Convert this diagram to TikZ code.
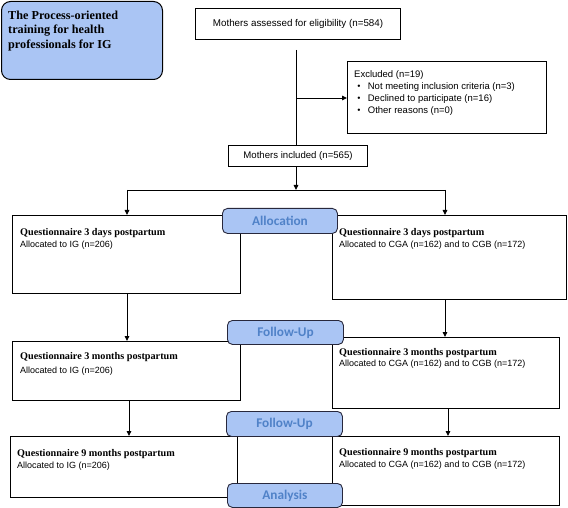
\documentclass[tikz,border=0pt]{standalone}
\usepackage{fontspec}
\setmainfont{Liberation Serif}
\newfontfamily\arialf{Liberation Sans}
\newfontfamily\labf{Carlito}
\usetikzlibrary{arrows.meta,calc}
\definecolor{lblue}{RGB}{170,197,244}
\definecolor{ltext}{RGB}{80,130,200}
\definecolor{lborder}{RGB}{40,40,60}
\begin{document}
\begin{tikzpicture}[x=1pt,y=-1pt,
  box/.style={draw=black,line width=1.1pt,anchor=north west,inner sep=0pt,fill=white},
  lab/.style={draw=lborder,line width=0.9pt,fill=lblue,rounded corners=5pt,anchor=north west,inner sep=0pt,
    font=\labf\bfseries\fontsize{13.3}{14}\selectfont,text=ltext},
  ttl/.style={anchor=north west,inner sep=0pt,align=left,font=\bfseries\fontsize{10.2}{11}\selectfont},
  sml/.style={anchor=north west,inner sep=0pt,align=left,font=\arialf\fontsize{9}{10}\selectfont},
  arr/.style={line width=0.9pt,-{Triangle[length=5pt,width=4.5pt]}},
  ln/.style={line width=0.9pt}]
\useasboundingbox (0,0) rectangle (568,508);

% top-left box
\node[draw=black,line width=1pt,fill=lblue,rounded corners=9pt,anchor=north west,inner sep=0pt,
  minimum width=161pt,minimum height=78pt] (tl) at (1,1) {};
\node[anchor=north west,inner sep=0pt,align=left,font=\bfseries\fontsize{12.2}{14.5}\selectfont]
  (tlt) at (8,10.5) {The Process-oriented\\training for health\\professionals for IG};

% assessed
\node[box,minimum width=205pt,minimum height=31pt,font=\arialf\fontsize{9.8}{11}\selectfont] (ass) at (195,8) {Mothers assessed for eligibility (n=584)};
% excluded
\node[box,minimum width=199pt,minimum height=72pt] (exc) at (347,61) {};
\node[anchor=north west,inner sep=0pt,align=left,font=\arialf\fontsize{9.5}{12}\selectfont] (exct) at (354,70)
 {Excluded (n=19)\\
  \hspace*{3pt}{\fontsize{5}{6}\selectfont\raisebox{1.5pt}{$\bullet$}}\hspace{7pt}Not meeting inclusion criteria (n=3)\\
  \hspace*{3pt}{\fontsize{5}{6}\selectfont\raisebox{1.5pt}{$\bullet$}}\hspace{7pt}Declined to participate (n=16)\\
  \hspace*{3pt}{\fontsize{5}{6}\selectfont\raisebox{1.5pt}{$\bullet$}}\hspace{7pt}Other reasons (n=0)};
% included
\node[box,minimum width=139pt,minimum height=21pt,font=\arialf\fontsize{9.6}{11}\selectfont] (inc) at (228,145) {Mothers included (n=565)};

% questionnaire boxes
\node[box,minimum width=228pt,minimum height=78pt] (l1) at (12,215) {};
\node[box,minimum width=234pt,minimum height=84pt] (r1) at (332,215) {};
\node[box,minimum width=228pt,minimum height=59pt] (l2) at (12,341) {};
\node[box,minimum width=227pt,minimum height=71pt] (r2) at (332,337) {};
\node[box,minimum width=227pt,minimum height=61pt] (l3) at (10,436) {};
\node[box,minimum width=227pt,minimum height=69pt] (r3) at (332,436) {};

\node[ttl] at (20,228) {Questionnaire 3 days postpartum};
\node[sml] at (20,240.5) {Allocated to IG (n=206)};
\node[ttl] at (339,228) {Questionnaire 3 days postpartum};
\node[sml] at (339,240.5) {Allocated to CGA (n=162) and to CGB (n=172)};

\node[ttl] at (20,352.5) {Questionnaire 3 months postpartum};
\node[sml] at (20,366.5) {Allocated to IG (n=206)};
\node[ttl] at (339,348) {Questionnaire 3 months postpartum};
\node[sml] at (339,360) {Allocated to CGA (n=162) and to CGB (n=172)};

\node[ttl] at (17,449) {Questionnaire 9 months postpartum};
\node[sml] at (17,461.5) {Allocated to IG (n=206)};
\node[ttl] at (339,448) {Questionnaire 9 months postpartum};
\node[sml] at (339,460.5) {Allocated to CGA (n=162) and to CGB (n=172)};

% connectors
\coordinate (v0) at (296,50);
\coordinate (vb) at (296,98);
\coordinate (split) at (296,190);
\coordinate (sl) at (127,190);
\coordinate (sr) at (445,190);
\draw[ln] (v0) -- (inc.north -| v0);
\draw[arr] (vb) -- (exc.west |- vb);
\draw[arr] (inc.south -| split) -- (split);
\draw[ln] (sl) -- (sr);
\draw[arr] (sl) -- (l1.north -| sl);
\draw[arr] (sr) -- (r1.north -| sr);
\draw[arr] (l1.south -| 127,0) -- (l2.north -| 127,0);
\draw[arr] (r1.south -| 445,0) -- (r2.north -| 445,0);
\draw[arr] (l2.south -| 129,0) -- (l3.north -| 129,0);
\draw[arr] (r2.south -| 448,0) -- (r3.north -| 448,0);

% labels
\node[lab,minimum width=115pt,minimum height=25pt] (alloc) at (222,208) {Allocation};
\node[lab,minimum width=116pt,minimum height=24pt] (fu1) at (227,320) {Follow-Up};
\node[lab,minimum width=116pt,minimum height=25pt] (fu2) at (226,411) {Follow-Up};
\node[lab,minimum width=115pt,minimum height=24pt] (ana) at (227,483) {Analysis};
\end{tikzpicture}
\end{document}
